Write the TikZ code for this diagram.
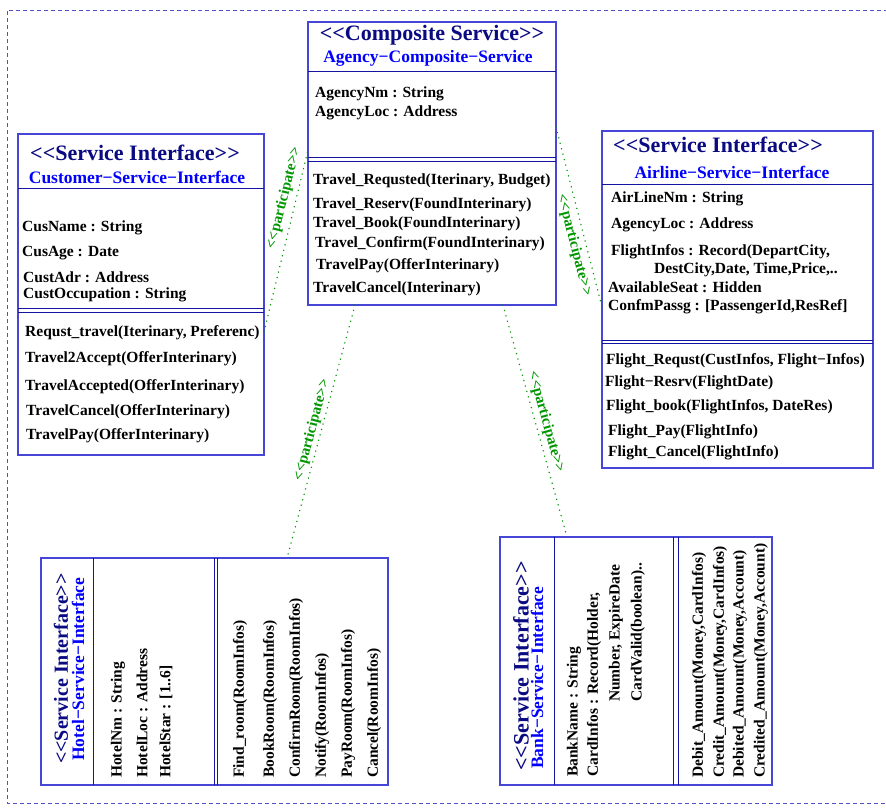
\documentclass[tikz,border=0pt]{standalone}
\usepackage{fontspec}
\setmainfont{Liberation Serif}[Ligatures=TeXOff]
\definecolor{boxc}{RGB}{70,70,215}
\definecolor{divc}{RGB}{20,20,160}
\definecolor{navyc}{RGB}{10,10,130}
\definecolor{subc}{RGB}{0,0,255}
\definecolor{partg}{RGB}{0,150,0}
\definecolor{framec}{RGB}{80,80,200}
\begin{document}
\begin{tikzpicture}[x=1pt,y=-1pt,
  umlbox/.style={draw=boxc, line width=1.1pt, inner sep=0pt, outer sep=0pt},
  divline/.style={draw=divc, line width=1pt},
  ttl/.style={text=navyc, inner sep=0pt, font=\fontsize{22}{24}\selectfont\bfseries},
  ttlsmall/.style={text=navyc, inner sep=0pt, font=\fontsize{20}{22}\selectfont\bfseries},
  subttl/.style={text=subc, inner sep=0pt, font=\fontsize{17.5}{20}\selectfont\bfseries},
  txt/.style={anchor=west, inner sep=0pt, font=\fontsize{15.5}{18}\selectfont\bfseries},
  vtxt/.style={txt, rotate=90},
  conn/.style={draw=partg, line width=1.5pt, line cap=round, dash pattern=on 0.1pt off 5.5pt},
  plabel/.style={text=partg, inner sep=0pt, font=\fontsize{15}{17}\selectfont\bfseries}
]
\useasboundingbox (0,0) rectangle (886,807);
% outer dashed frame
\draw[draw=framec, line width=0.9pt, dash pattern=on 4pt off 3pt] (895,10) -- (7,10) -- (7,803) -- (895,803);

% ===== Composite service =====
\node[umlbox, minimum width=248pt, minimum height=283pt] (comp) at (432,163.5) {};
\draw[divline] (comp.west |- 0,71) -- (comp.east |- 0,71);
\draw[divline] (comp.west |- 0,157) -- (comp.east |- 0,157);
\draw[divline] (comp.west |- 0,161) -- (comp.east |- 0,161);
\node[ttl] (compT) at (432,35) {<<Composite Service>>};
\node[subttl] (compS) at (428,58) {Agency−Composite−Service};
\node[txt] (ca1) at (315,94) {AgencyNm : String};
\node[txt] (ca2) at (315,113) {AgencyLoc : Address};
\node[txt] (co1) at (313,181) {Travel\_Requsted(Iterinary, Budget)};
\node[txt] (co2) at (313,205) {Travel\_Reserv(FoundInterinary)};
\node[txt] (co3) at (313,224) {Travel\_Book(FoundInterinary)};
\node[txt] (co4) at (315,244) {Travel\_Confirm(FoundInterinary)};
\node[txt] (co5) at (316,266) {TravelPay(OfferInterinary)};
\node[txt] (co6) at (313,289) {TravelCancel(Interinary)};

% ===== Customer service interface =====
\node[umlbox, minimum width=246pt, minimum height=321pt] (cust) at (141,294.5) {};
\draw[divline] (cust.west |- 0,188) -- (cust.east |- 0,188);
\draw[divline] (cust.west |- 0,308) -- (cust.east |- 0,308);
\draw[divline] (cust.west |- 0,312) -- (cust.east |- 0,312);
\node[ttl] (custT) at (135,153) {<<Service Interface>>};
\node[subttl] (custS) at (137,177) {Customer−Service−Interface};
\node[txt] (cua1) at (22,228) {CusName : String};
\node[txt] (cua2) at (22,253) {CusAge : Date};
\node[txt] (cua3) at (23,277) {CustAdr : Address};
\node[txt] (cua4) at (23,295) {CustOccupation : String};
\node[txt] (cuo1) at (25,333) {Requst\_travel(Iterinary, Preferenc)};
\node[txt] (cuo2) at (25,359) {Travel2Accept(OfferInterinary)};
\node[txt] (cuo3) at (25,387) {TravelAccepted(OfferInterinary)};
\node[txt] (cuo4) at (26,412) {TravelCancel(OfferInterinary)};
\node[txt] (cuo5) at (26,436) {TravelPay(OfferInterinary)};

% ===== Airline service interface =====
\node[umlbox, minimum width=271pt, minimum height=337pt] (air) at (737.5,299.5) {};
\draw[divline] (air.west |- 0,184) -- (air.east |- 0,184);
\draw[divline] (air.west |- 0,340) -- (air.east |- 0,340);
\draw[divline] (air.west |- 0,343) -- (air.east |- 0,343);
\node[ttl] (airT) at (718,145) {<<Service Interface>>};
\node[subttl] (airS) at (732,172) {Airline−Service−Interface};
\node[txt] (aa1) at (611,199) {AirLineNm : String};
\node[txt] (aa2) at (611,225) {AgencyLoc : Address};
\node[txt] (aa3) at (611,252) {FlightInfos : Record(DepartCity,};
\node[txt] (aa4) at (654,270) {DestCity,Date, Time,Price,..};
\node[txt] (aa5) at (608,287) {AvailableSeat : Hidden};
\node[txt] (aa6) at (608,307) {ConfmPassg : [PassengerId,ResRef]};
\node[txt] (ao1) at (606,361) {Flight\_Requst(CustInfos, Flight−Infos)};
\node[txt] (ao2) at (605,383) {Flight−Resrv(FlightDate)};
\node[txt] (ao3) at (606,407) {Flight\_book(FlightInfos, DateRes)};
\node[txt] (ao4) at (608,432) {Flight\_Pay(FlightInfo)};
\node[txt] (ao5) at (608,453) {Flight\_Cancel(FlightInfo)};

% ===== Hotel service interface (rotated) =====
\node[umlbox, minimum width=347pt, minimum height=227pt] (hotel) at (214.5,671.5) {};
\draw[divline] (93,0 |- hotel.north) -- (93,0 |- hotel.south);
\draw[divline] (214,0 |- hotel.north) -- (214,0 |- hotel.south);
\draw[divline] (217,0 |- hotel.north) -- (217,0 |- hotel.south);
\node[ttlsmall, anchor=west, rotate=90] (hotT) at (61,764) {<<Service Interface>>};
\node[subttl, anchor=west, rotate=90] (hotS) at (78,761) {Hotel−Service−Interface};
\node[vtxt] (ha1) at (118,778) {HotelNm : String};
\node[vtxt] (ha2) at (142,778) {HotelLoc : Address};
\node[vtxt] (ha3) at (166,778) {HotelStar : [1..6]};
\node[vtxt] (ho1) at (240,778) {Find\_room(RoomInfos)};
\node[vtxt] (ho2) at (270,778) {BookRoom(RoomInfos)};
\node[vtxt] (ho3) at (296,778) {ConfirmRoom(RoomInfos)};
\node[vtxt] (ho4) at (322,778) {Notify(RoomInfos)};
\node[vtxt] (ho5) at (348,778) {PayRoom(RoomInfos)};
\node[vtxt] (ho6) at (374,778) {Cancel(RoomInfos)};

% ===== Bank service interface (rotated) =====
\node[umlbox, minimum width=272pt, minimum height=248pt] (bank) at (636,661) {};
\draw[divline] (554,0 |- bank.north) -- (554,0 |- bank.south);
\draw[divline] (673,0 |- bank.north) -- (673,0 |- bank.south);
\draw[divline] (678,0 |- bank.north) -- (678,0 |- bank.south);
\node[ttl, anchor=west, rotate=90] (bnkT) at (521,771) {<<Service Interface>>};
\node[subttl, anchor=west, rotate=90] (bnkS) at (537,769) {Bank−Service−Interface};
\node[vtxt] (ba1) at (574,777) {BankName : String};
\node[vtxt] (ba2) at (594,777) {CardInfos : Record(Holder,};
\node[vtxt] (ba3) at (616,702) {Number, ExpireDate};
\node[vtxt] (ba4) at (638,702) {CardValid(boolean)..};
\node[vtxt] (bo1) at (699,778) {Debit\_Amount(Money,CardInfos)};
\node[vtxt] (bo2) at (720,778) {Credit\_Amount(Money,CardInfos)};
\node[vtxt] (bo3) at (740,778) {Debited\_Amount(Money,Account)};
\node[vtxt] (bo4) at (761,778) {Credited\_Amount(Money,Account)};

% ===== connectors =====
\coordinate (p1a) at (cust.east |- 0,332);
\coordinate (p1b) at (comp.west |- 0,150);
\coordinate (p2a) at (comp.east |- 0,127);
\coordinate (p2b) at (air.west |- 0,307);
\coordinate (p3a) at (355,0 |- comp.south);
\coordinate (p3b) at (287,0 |- hotel.north);
\coordinate (p4a) at (503,0 |- comp.south);
\coordinate (p4b) at (567,0 |- bank.north);
\draw[conn] (p1a) -- (p1b);
\draw[conn] (p2a) -- (p2b);
\draw[conn] (p3a) -- (p3b);
\draw[conn] (p4a) -- (p4b);
\node[plabel, rotate=76] (l1) at (284,198) {<<participate>>};
\node[plabel, rotate=-75.5] (l2) at (574,245) {<<participate>>};
\node[plabel, rotate=75] (l3) at (312,430) {<<participate>>};
\node[plabel, rotate=-74.5] (l4) at (546,422) {<<participate>>};
\end{tikzpicture}
\end{document}
